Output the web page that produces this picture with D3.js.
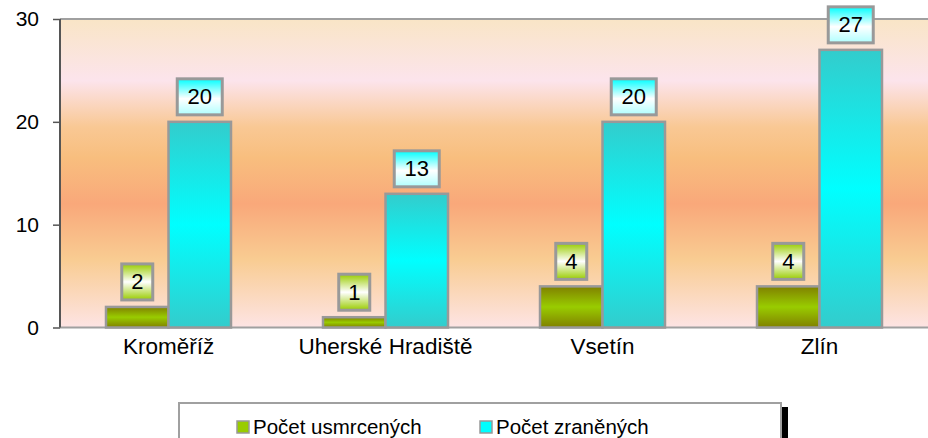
<!DOCTYPE html>
<html><head><meta charset="utf-8">
<script src="https://cdn.jsdelivr.net/npm/d3@7"></script>
<style>html,body{margin:0;padding:0;background:#fff;}svg{display:block;font-family:"Liberation Sans",Arial,sans-serif;}</style>
</head><body>
<svg id="c" width="928" height="438"></svg>
<script>
const categories = ["Kroměříž", "Uherské Hradiště", "Vsetín", "Zlín"];
const seriesNames = ["Počet usmrcených", "Počet zraněných"];
const killed = [2, 1, 4, 4];
const injured = [20, 13, 20, 27];
const yTicks = [0, 10, 20, 30];

const svg = d3.select("#c");
const W = 928, H = 438;
const m = {left: 60, top: 19, right: 0, bottom: 111};
const x = d3.scaleBand().domain(categories).range([m.left, W]).paddingInner(0.424).paddingOuter(0.212);
const sub = d3.scaleBand().domain([0, 1]).range([0, x.bandwidth()]);
const y = d3.scaleLinear().domain([0, 30]).range([H - m.bottom + 0.5, m.top]);

const defs = svg.append("defs");
function grad(id, stops, vertical = true) {
  const g = defs.append("linearGradient").attr("id", id)
    .attr("x1", 0).attr("y1", 0).attr("x2", vertical ? 0 : 1).attr("y2", vertical ? 1 : 0);
  stops.forEach(([o, c]) => g.append("stop").attr("offset", o).attr("stop-color", c));
}
grad("bg", [[0, "#F9E5C6"], [0.2, "#FCE4EC"], [0.35, "#F9C894"], [0.45, "#F8BE7E"], [0.6, "#F9A87A"], [0.78, "#F9CC92"], [1, "#FDE4E4"]]);
grad("gGreen", [[0, "#808000"], [0.5, "#99CC00"], [1, "#808000"]]);
grad("gCyan", [[0, "#33CCCC"], [0.5, "#00FFFF"], [1, "#33CCCC"]]);
grad("lGreen", [[0, "#99CC00"], [0.5, "#FFFFFF"], [1, "#99CC00"]]);
grad("lCyan", [[0, "#00FFFF"], [0.55, "#FFFFFF"], [1, "#AFFFFF"]]);

const yTop = y(30), yBot = y(0);
svg.append("rect").attr("x", m.left).attr("y", yTop).attr("width", W - m.left).attr("height", yBot - yTop)
  .attr("fill", "url(#bg)");
svg.append("line").attr("x1", m.left).attr("x2", W).attr("y1", yTop).attr("y2", yTop)
  .attr("stroke", "#A0A0A0").attr("stroke-width", 2);
svg.append("line").attr("x1", m.left).attr("x2", W).attr("y1", yBot).attr("y2", yBot)
  .attr("stroke", "#A0A0A0").attr("stroke-width", 2);

const data = [killed, injured];
const fills = ["url(#gGreen)", "url(#gCyan)"];
const lfills = ["url(#lGreen)", "url(#lCyan)"];

data.forEach((vals, s) => {
  svg.append("g").selectAll("rect").data(vals).join("rect")
    .attr("x", (d, i) => x(categories[i]) + sub(s))
    .attr("y", d => y(d))
    .attr("width", sub.bandwidth())
    .attr("height", d => yBot - y(d))
    .attr("fill", fills[s])
    .attr("stroke", "#999999").attr("stroke-width", 2.5);
});

data.forEach((vals, s) => {
  const g = svg.append("g").selectAll("g").data(vals).join("g")
    .attr("transform", (d, i) => `translate(${x(categories[i]) + sub(s) + sub.bandwidth() / 2},${y(d) - 7})`);
  g.append("rect")
    .attr("x", d => -(String(d).length > 1 ? 22.5 : 15.5))
    .attr("y", -36)
    .attr("width", d => String(d).length > 1 ? 45 : 31)
    .attr("height", 36)
    .attr("fill", lfills[s]).attr("stroke", "#999999").attr("stroke-width", 3);
  g.append("text").attr("text-anchor", "middle").attr("y", -10.5)
    .attr("font-size", 22).attr("fill", "#000").text(d => d);
});

const yAxis = d3.axisLeft(y).tickValues(yTicks).tickSize(7).tickPadding(14).tickFormat(d3.format("d"));
const ya = svg.append("g").attr("transform", `translate(${m.left},0)`).call(yAxis);
ya.attr("font-size", 21).attr("font-family", "Liberation Sans, Arial, sans-serif");
ya.select(".domain").attr("stroke", "#555").attr("stroke-width", 2).attr("d", `M0,${yTop}V${yBot}`);
ya.selectAll(".tick line").attr("stroke", "#555").attr("stroke-width", 1.5);
ya.selectAll(".tick text").attr("fill", "#000");

const xAxis = d3.axisBottom(x).tickSize(0).tickPadding(11);
const xa = svg.append("g").attr("transform", `translate(0,${yBot})`).call(xAxis);
xa.attr("font-size", 22.5).attr("font-family", "Liberation Sans, Arial, sans-serif");
xa.select(".domain").remove();
xa.selectAll(".tick text").attr("fill", "#000");

const lg = svg.append("g");
lg.append("rect").attr("x", 782).attr("y", 407).attr("width", 6).attr("height", 40).attr("fill", "#000");
lg.append("rect").attr("x", 179).attr("y", 403).attr("width", 602).attr("height", 50)
  .attr("fill", "#fff").attr("stroke", "#A0A0A0").attr("stroke-width", 2);
const legX = [237, 480];
seriesNames.forEach((nm, s) => {
  lg.append("rect").attr("x", legX[s]).attr("y", 421).attr("width", 12).attr("height", 12)
    .attr("fill", s === 0 ? "#99CC00" : "#00FFFF").attr("stroke", "#999").attr("stroke-width", 1.5);
  lg.append("text").attr("x", legX[s] + 16).attr("y", 434).attr("font-size", 20.5).attr("fill", "#000").text(nm);
});
</script>
</body></html>
